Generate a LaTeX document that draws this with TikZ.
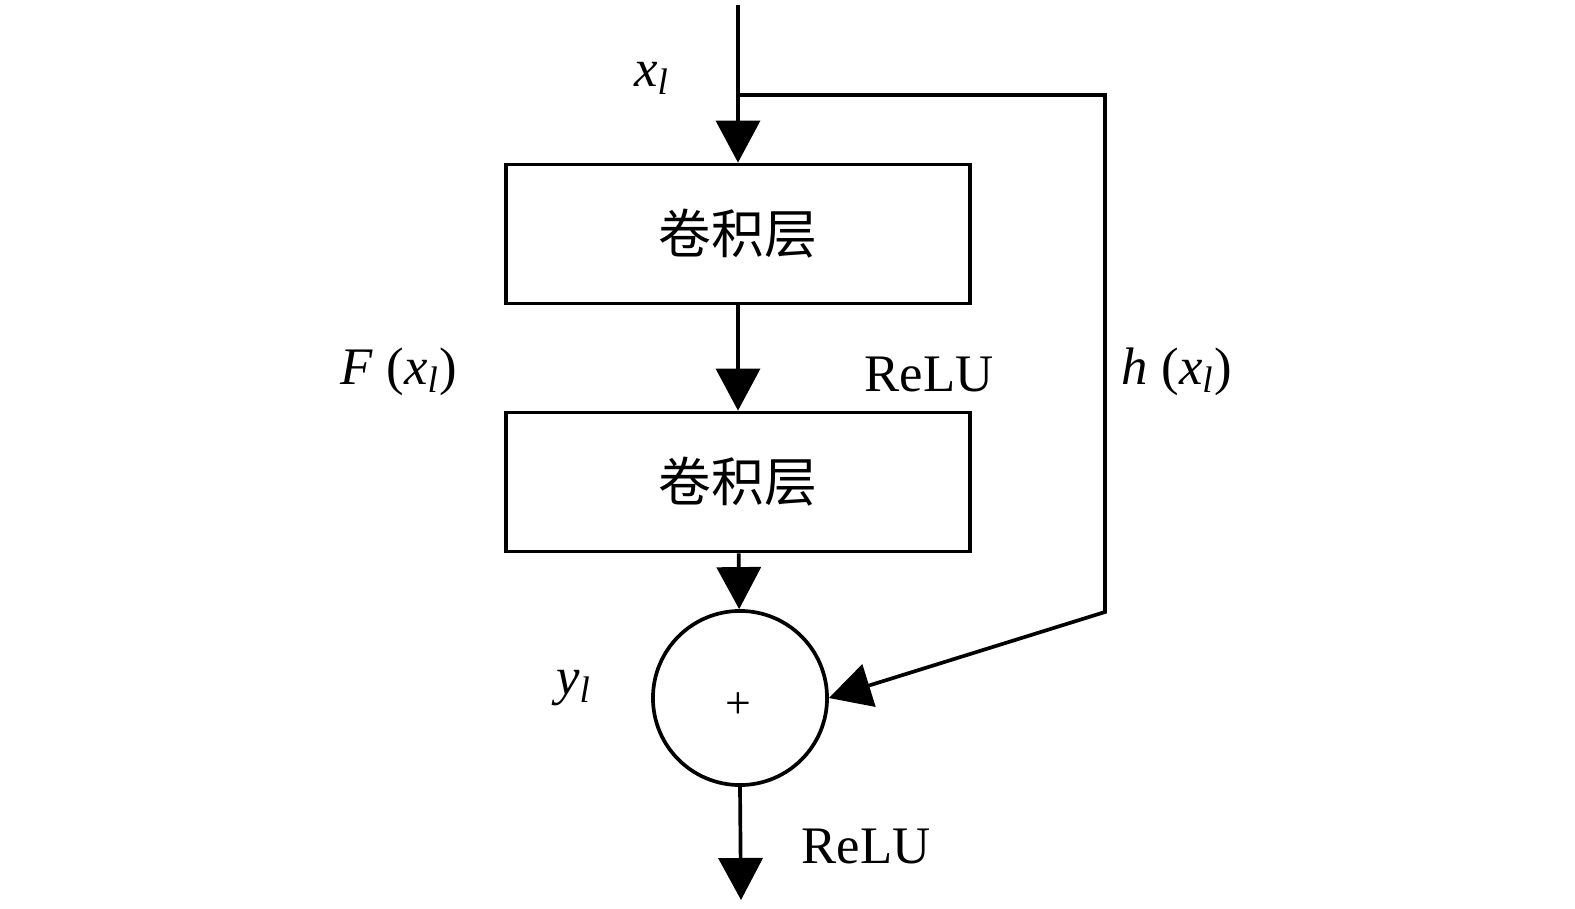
\documentclass[tikz,border=0pt]{standalone}
\usepackage{fontspec}
\setmainfont{Liberation Serif}
\newfontfamily\cjk{Noto Sans CJK SC}
\usepackage{tikz}
\usetikzlibrary{arrows.meta, positioning}

\begin{document}
\begin{tikzpicture}[
  x=0.01cm, y=-0.01cm,
  every node/.style={font=\fontsize{15}{17}\selectfont},
  conv/.style={rectangle, draw, line width=1.05pt, minimum width=4.64cm,
    minimum height=1.39cm, inner sep=0pt},
  sumnode/.style={circle, draw, line width=1.05pt, minimum size=1.74cm, inner sep=0pt},
  flow/.style={line width=1.05pt, -{Triangle[length=4.2mm, width=4.4mm]}}
]
\useasboundingbox (0,0) rectangle (1575,909);
\coordinate (in) at (738,5);
\coordinate (br) at (738,95);
\coordinate (c1) at (1105,95);
\coordinate (c2) at (1105,612);
\coordinate (out) at (741,900);
\node[conv] (conv1) at (738,234) {\cjk 卷积层};
\node[conv] (conv2) at (738,482) {\cjk 卷积层};
\node[sumnode] (add) at (740,698) {};
\node[font=\fontsize{13}{15}\selectfont] (plus) at (738,706) {+};
\draw[flow] (in) -- (conv1.north);
\draw[flow] (conv1) -- (conv2);
\draw[flow] (conv2) -- (add);
\draw[flow, line join=miter] (br) -- (c1) -- (c2) -- (add.east);
\draw[flow] (add.south) -- (out);
% labels
\node (xl) at (652,78) {\textit{x\textsubscript{l}}};
\node (Fx) at (399,372) {\textit{F} (\textit{x\textsubscript{l}})};
\node (relu1) at (929,374) {ReLU};
\node (hx) at (1177,372) {\textit{h} (\textit{x\textsubscript{l}})};
\node (yl) at (574,688) {\textit{y\textsubscript{l}}};
\node (relu2) at (866,846) {ReLU};
\end{tikzpicture}
\end{document}
